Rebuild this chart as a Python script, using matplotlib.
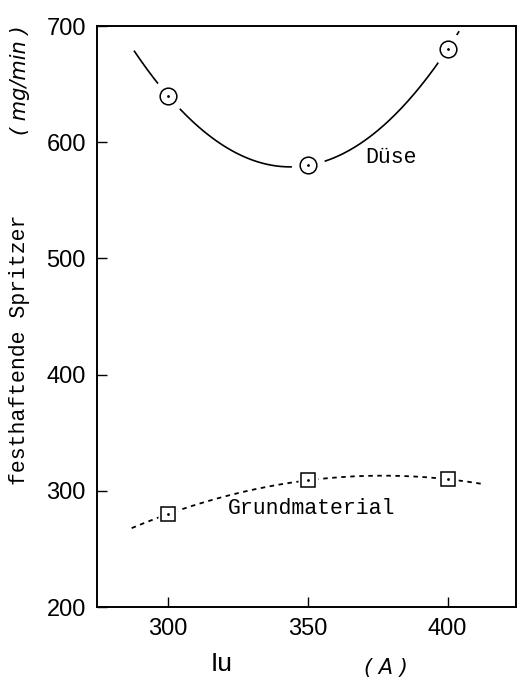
import numpy as np
import matplotlib
matplotlib.use("Agg")
import matplotlib.pyplot as plt

# Data
current = [300, 350, 400]
duese = [640, 580, 680]
grund = [280, 309, 310]
duese_range = [288, 404]
grund_range = [287, 412]
xticks = [300, 350, 400]
yticks = [200, 300, 400, 500, 600, 700]

fig = plt.figure(figsize=(5.17, 6.8), dpi=100)
ax = fig.add_axes([97/517, 1-607/680, (516-97)/517, (607-26)/680])
ax.set_xlim(274.6, 424.5)
ax.set_ylim(200, 700)

# fitted trend lines
cd = np.polyfit(current, duese, 2)
xd = np.linspace(*duese_range, 200)
ax.plot(xd, np.polyval(cd, xd), color="black", lw=1.2, zorder=2)
cg = np.polyfit(current, grund, 2)
xg = np.linspace(*grund_range, 200)
ax.plot(xg, np.polyval(cg, xg), color="black", lw=1.3, dashes=(2.5, 2.5), zorder=2)

# gaps around markers
ax.plot(current, duese, ls="none", marker="o", ms=24, mfc="white", mec="none", zorder=3)
ax.plot(current, grund, ls="none", marker="s", ms=15, mfc="white", mec="none", zorder=3)
# markers
ax.plot(current, duese, ls="none", marker="o", ms=12, mfc="white", mec="black", mew=1.1, zorder=4)
ax.plot(current, duese, ls="none", marker=".", ms=2, color="black", zorder=5)
ax.plot(current, grund, ls="none", marker="s", ms=10.5, mfc="white", mec="black", mew=1.1, zorder=4)
ax.plot(current, grund, ls="none", marker=".", ms=2, color="black", zorder=5)

mono = "Liberation Mono"
ax.text(370.7, 587, "Düse", family=mono, fontsize=15.5, va="center", ha="left")
ax.text(321.4, 285, "Grundmaterial", family=mono, fontsize=15.5, va="center", ha="left")

ax.set_xticks(xticks)
ax.set_yticks(yticks)
ax.tick_params(direction="in", length=7, width=1, labelsize=17, pad=8)
for lab in ax.get_xticklabels() + ax.get_yticklabels():
    lab.set_family("Liberation Sans")
for s in ax.spines.values():
    s.set_linewidth(1.4)

fig.text(20/517, 1-350/680, "festhaftende Spritzer", family=mono, fontsize=15.5,
         rotation=90, ha="center", va="center")
fig.text(20/517, 1-80/680, "( mg/min )", family="DejaVu Sans", style="italic",
         fontsize=15, rotation=90, ha="center", va="center")
fig.text(222/517, 1-664/680, "Iu", family="Liberation Sans", fontsize=19,
         ha="center", va="center")
fig.text(386/517, 1-668/680, "( A )", family="DejaVu Sans", style="italic",
         fontsize=15, ha="center", va="center")

fig.savefig("out.png", dpi=100)
